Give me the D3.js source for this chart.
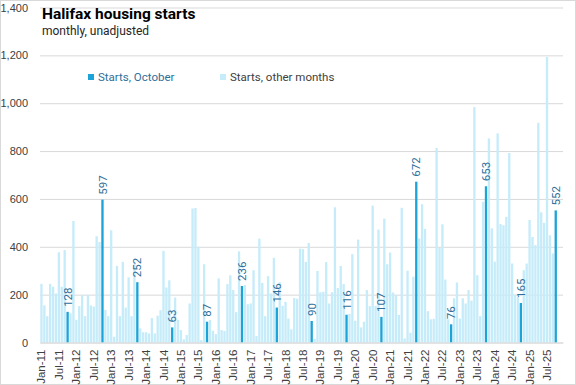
<!DOCTYPE html>
<html>
<head>
<meta charset="utf-8">
<script src="https://cdn.jsdelivr.net/npm/d3@7"></script>
<style>
  body { margin: 0; background: #fff; }
  svg { font-family: Roboto, "Liberation Sans", sans-serif; }
</style>
</head>
<body>
<svg id="plot"></svg>
<script>
// Monthly housing starts, Jan-11 .. Oct-25
var starts = [
  245, 155, 110, 245, 233, 205, 377, 233, 386, 128, 122, 508,   // 2011
  95, 152, 198, 110, 198, 155, 150, 444, 420, 597, 136, 110,    // 2012
  469, 24, 320, 110, 337, 146, 272, 110, 330, 252, 59, 43,      // 2013
  43, 38, 102, 38, 112, 135, 383, 230, 260, 63, 188, 94,        // 2014
  52, 13, 31, 163, 560, 562, 400, 10, 327, 87, 94, 49,          // 2015
  35, 268, 52, 48, 244, 281, 219, 127, 381, 236, 240, 160,      // 2016
  163, 302, 27, 434, 249, 110, 277, 205, 354, 146, 252, 153,    // 2017
  170, 100, 55, 186, 183, 392, 390, 337, 416, 90, 15, 299,      // 2018
  210, 212, 336, 163, 210, 565, 228, 320, 244, 116, 120, 369,   // 2019
  91, 430, 63, 87, 219, 152, 572, 153, 472, 107, 518, 327,      // 2020
  376, 209, 198, 115, 563, 17, 300, 41, 275, 672, 435, 578,     // 2021
  475, 131, 97, 99, 813, 396, 494, 263, 97, 76, 185, 251,       // 2022
  100, 185, 163, 219, 175, 984, 281, 110, 588, 653, 853, 477,   // 2023
  338, 874, 495, 490, 525, 792, 330, 200, 190, 165, 302, 330,   // 2024
  512, 441, 407, 918, 544, 500, 1193, 448, 372, 552             // 2025
];

var yTicks = [0, 200, 400, 600, 800, 1000, 1200, 1400];

var tickLabels = [
  "Jan-11", "Jul-11", "Jan-12", "Jul-12", "Jan-13", "Jul-13", "Jan-14", "Jul-14",
  "Jan-15", "Jul-15", "Jan-16", "Jul-16", "Jan-17", "Jul-17", "Jan-18", "Jul-18",
  "Jan-19", "Jul-19", "Jan-20", "Jul-20", "Jan-21", "Jul-21", "Jan-22", "Jul-22",
  "Jan-23", "Jul-23", "Jan-24", "Jul-24", "Jan-25", "Jul-25"
];

var seriesNames = ["Starts, October", "Starts, other months"];

var octColor = "#1ca3d8",
    otherColor = "#c6ecfa";

var W = 576, H = 385;
var fmt = d3.timeFormat("%b-%y");

// axis runs through Dec-25, bars stop at Oct-25
var months = d3.timeMonth.range(new Date(2011, 0, 1), new Date(2026, 0, 1));
var data = starts.map(function(v, i) {
  return { month: months[i], label: fmt(months[i]), value: v, oct: months[i].getMonth() === 9 };
});

var svg = d3.select("#plot").attr("width", W).attr("height", H);

svg.append("rect")
  .attr("x", 0.5).attr("y", 0.5)
  .attr("width", W - 1).attr("height", H - 1)
  .attr("fill", "#fff").attr("stroke", "#d9d9d9");

var xScale = d3.scaleBand()
  .domain(months.map(fmt))
  .range([40, 563])
  .paddingInner(0.2)
  .paddingOuter(0.1);

var yScale = d3.scaleLinear()
  .domain([0, 1400])
  .range([342.5, 7.5]);

// Y axis + gridlines
var yAxis = svg.append("g")
  .attr("transform", "translate(40,0)")
  .call(d3.axisLeft(yScale).tickValues(yTicks).tickSize(-523).tickPadding(12).tickFormat(d3.format(",")));
yAxis.select(".domain").remove();
yAxis.selectAll("line").attr("stroke", "#d9d9d9");
yAxis.selectAll("text").attr("fill", "#404040").style("font-size", "11px");

// Bars
svg.selectAll(".bar")
  .data(data)
  .enter().append("rect")
    .attr("class", "bar")
    .attr("x", d => xScale(d.label))
    .attr("y", d => yScale(d.value))
    .attr("width", xScale.bandwidth())
    .attr("height", d => yScale(0) - yScale(d.value))
    .attr("fill", d => d.oct ? octColor : otherColor);

// October labels
svg.selectAll(".octLabel")
  .data(data.filter(d => d.oct))
  .enter().append("text")
    .attr("class", "octLabel")
    .attr("transform", d => "translate(" + (xScale(d.label) + xScale.bandwidth() / 2) + "," + (yScale(d.value) - 5) + ") rotate(-90)")
    .attr("dy", "0.35em")
    .style("text-anchor", "start")
    .style("font-size", "11.5px")
    .attr("fill", "#2f6f9a")
    .text(d => d.value);

// X axis
var xAxis = svg.append("g")
  .attr("transform", "translate(0," + yScale(0) + ")")
  .call(d3.axisBottom(xScale).tickValues(tickLabels).tickSize(0).tickPadding(0));
xAxis.select(".domain").attr("stroke", "#d9d9d9");
xAxis.selectAll("text")
  .attr("transform", "rotate(-90)")
  .attr("x", -7)
  .attr("y", 0)
  .attr("dy", "0.35em")
  .style("text-anchor", "end")
  .style("font-size", "11.5px")
  .attr("fill", "#404040");

// Title
svg.append("text")
  .attr("x", 42).attr("y", 19)
  .style("font-size", "15.5px")
  .style("font-weight", "bold")
  .attr("fill", "#000")
  .text("Halifax housing starts");

svg.append("text")
  .attr("x", 42).attr("y", 35)
  .style("font-size", "12px")
  .attr("fill", "#262626")
  .text("monthly, unadjusted");

// Legend
var legend = svg.selectAll(".legend")
  .data(seriesNames)
  .enter().append("g")
  .attr("class", "legend")
  .attr("transform", function(d, i) { return "translate(" + (i === 0 ? 88 : 220) + ",77)"; });

legend.append("rect")
  .attr("x", 0).attr("y", -3)
  .attr("width", 6).attr("height", 6)
  .attr("fill", (d, i) => i === 0 ? octColor : otherColor);

legend.append("text")
  .attr("x", 10)
  .attr("dy", "0.35em")
  .style("font-size", "11.5px")
  .attr("fill", (d, i) => i === 0 ? "#2f6f9a" : "#404040")
  .text(d => d);
</script>
</body>
</html>
